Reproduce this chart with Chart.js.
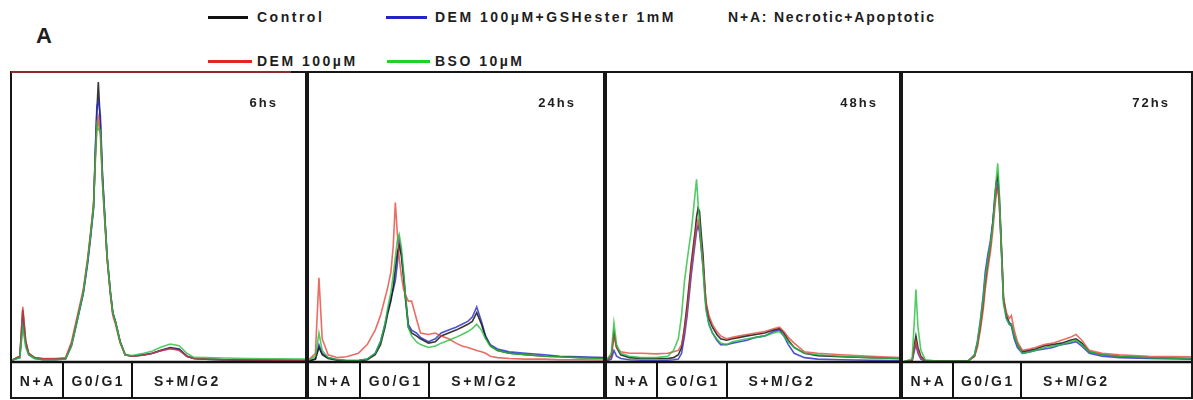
<!DOCTYPE html>
<html>
<head>
<meta charset="utf-8">
<script src="https://cdn.jsdelivr.net/npm/chart.js@4.4.1/dist/chart.umd.min.js"></script>
<style>
  body { margin: 0; width: 1193px; height: 400px; background: #fff; position: relative; overflow: hidden; font-family: 'Liberation Sans', Arial, sans-serif; }
  .txt { position: absolute; font-weight: bold; font-size: 14px; letter-spacing: 2.5px; color: #1e1e1e; white-space: nowrap; line-height: 16px; }
  .key { position: absolute; height: 3px; }
  canvas { position: absolute; top: 71px; }
</style>
</head>
<body>
<div class="txt" style="left:36px;top:24px;font-size:22px;letter-spacing:0;line-height:24px;">A</div>

<div class="key" style="left:208px;top:16px;width:40px;background:#111;"></div>
<div class="txt" style="left:257px;top:9px;">Control</div>
<div class="key" style="left:386px;top:16px;width:41px;background:#2323c8;"></div>
<div class="txt" style="left:435px;top:9px;">DEM 100µM+GSHester 1mM</div>
<div class="txt" style="left:728px;top:9px;letter-spacing:1.8px;">N+A: Necrotic+Apoptotic</div>

<div class="key" style="left:208px;top:60px;width:44px;background:#e32424;"></div>
<div class="txt" style="left:257px;top:53px;">DEM 100µM</div>
<div class="key" style="left:387px;top:60px;width:43px;background:#22d02a;"></div>
<div class="txt" style="left:435px;top:53px;">BSO 10µM</div>

<canvas id="p0" width="297" height="329" style="left:10px"></canvas>
<canvas id="p1" width="298" height="329" style="left:307px"></canvas>
<canvas id="p2" width="296" height="329" style="left:605px"></canvas>
<canvas id="p3" width="292" height="329" style="left:901px"></canvas>

<script>
// ---- data (x = channel, % of plot width; y = counts, % of plot height) ----
var timeLabels = ['6hs', '24hs', '48hs', '72hs'];
var regionEdges = [0, 17.5, 41, 100];
var regionLabels = ['N+A', 'G0/G1', 'S+M/G2'];

// 6hs
var chan6 = [0, 3, 4, 5, 6, 8, 11, 15, 18.5, 20.5, 22.5, 24.5, 26, 27, 28, 28.6, 29.1, 29.6, 30.3, 31, 31.8, 32.6, 33.7, 34.5, 35.4, 37, 38.7, 41, 45, 48, 50.5, 54, 57, 59.6, 62, 66, 72, 80, 90, 100];
var ctrl6 = [0.5, 2, 18, 7, 3, 1.5, 1, 1, 1.2, 6, 15, 24, 35, 44, 54, 72, 86, 96.5, 82, 64, 50, 36, 24, 17, 14, 7, 2.5, 2, 2.5, 3, 4, 5, 4.5, 2, 1.2, 1, 0.8, 0.7, 0.6, 0.5];
var dem6 = [0.5, 2, 19, 7, 3, 1.5, 1.2, 1.2, 1.5, 7, 16, 25, 36, 45, 55, 70, 80, 84, 78, 62, 48, 35, 23, 16, 13, 6.5, 2.5, 2, 2.3, 3, 3.8, 4.6, 4, 2, 1.2, 1, 0.8, 0.7, 0.6, 0.5];
var gsh6 = [0.5, 1.5, 14, 6, 2.5, 1.2, 0.8, 0.8, 1, 5.5, 14.5, 23.5, 34, 43, 53, 74, 88, 90, 85, 65, 50, 36, 24, 17, 14, 7, 2.5, 2, 2.4, 3, 3.8, 4.7, 4.2, 2, 1.2, 1, 0.8, 0.7, 0.6, 0.5];
var bso6 = [0.5, 1.5, 12, 5, 2.5, 1.2, 0.8, 0.8, 1, 5.5, 14.5, 24, 35, 44, 54, 70, 82, 80, 80, 62, 49, 36, 24, 17, 14, 7, 2.5, 2.2, 3, 3.8, 5, 6.2, 5.6, 3, 1.6, 1.5, 1.4, 1.2, 1.1, 1];

// 24hs
var chan24 = [0, 2.5, 3.7, 4.8, 6.8, 10, 13, 17, 20, 22.7, 24.5, 26, 27, 28, 28.8, 29.5, 30.2, 30.8, 31.5, 32.3, 33, 33.9, 35, 36.6, 38, 40.7, 43, 45, 47.5, 50, 52, 54, 55.5, 57, 58.6, 60, 61.6, 64, 68, 73.5, 80, 85, 92, 100];
var ctrl24 = [0.3, 1, 5, 2.5, 1.2, 0.6, 0.4, 0.4, 0.8, 2.5, 6, 12, 17, 21, 26, 32, 38, 40, 37, 29, 21, 12, 10, 9, 8, 6.5, 7, 9, 10, 11, 12, 13, 14, 17, 13, 8.5, 5.5, 4, 3, 2.5, 2, 1.8, 1.5, 1.3];
var dem24 = [0.5, 3, 29, 8, 2.5, 1.5, 1.8, 3, 6, 11, 16, 22, 26, 31, 40, 55, 44, 36, 30, 25, 23, 21, 21, 15, 10, 9.5, 10, 9, 8, 6.5, 5.5, 5, 4.5, 4, 3.5, 3, 2, 1.5, 1.2, 1, 1, 0.8, 0.8, 0.7];
var gsh24 = [0.3, 1, 6, 3, 1.5, 0.8, 0.5, 0.5, 1, 3, 7, 13, 18, 22, 25, 28, 34, 42, 38, 30, 22, 13, 11, 10, 8.5, 7, 8, 10, 11, 12, 13, 14, 15.5, 19, 14, 9, 6, 4.5, 3.5, 3, 2.5, 2, 1.8, 1.5];
var bso24 = [0.5, 2, 10, 4, 1.5, 0.8, 0.5, 0.5, 1, 3, 7, 13, 19, 24, 30, 36, 42, 44, 40, 31, 22, 12, 9, 7, 6, 5, 5.5, 6.5, 7.5, 8.5, 9.5, 10.5, 11.5, 13, 11, 8, 5.5, 4, 3, 2.5, 2, 1.8, 1.5, 1.2];

// 48hs
var chan48 = [0, 1.8, 2.7, 3.6, 5, 8, 12, 17, 21, 23, 24.6, 25.7, 26.7, 27.6, 28.4, 29, 29.7, 30.3, 30.8, 31.3, 31.8, 32.4, 33, 33.5, 34, 35, 36.2, 37.7, 39, 41, 43, 45.5, 48, 51, 54, 57, 59, 60.5, 62, 64, 67.5, 72, 80, 90, 100];
var ctrl48 = [0.5, 2, 10, 5, 2.5, 1.5, 1.2, 1.2, 1.2, 1.5, 2.5, 5, 12, 20, 28, 34, 40, 45, 50, 53, 52, 44, 37, 28, 20, 15, 12, 9.5, 8, 7.5, 8, 8.5, 9, 9.5, 10, 11, 11.5, 10, 7.5, 5, 3, 2.2, 1.8, 1.5, 1.2];
var dem48 = [0.5, 2, 9, 5, 3.5, 3, 3, 2.8, 3, 3.5, 4, 6, 11, 18, 26, 32, 38, 43, 47, 49, 46, 40, 34, 27, 21, 16, 13, 10.5, 9, 8, 8.5, 9, 9.5, 10, 10.5, 11.5, 12, 10.5, 8.5, 6.5, 3.5, 3, 2.5, 2, 1.5];
var gsh48 = [0.3, 1, 4, 2, 1.2, 0.8, 0.6, 0.6, 0.6, 0.8, 1, 3, 9, 16, 24, 30, 36, 41, 45, 47, 45, 39, 33, 26, 19, 13, 10, 7.5, 6, 6, 6.5, 7, 7.5, 8.5, 9, 10.5, 11, 9, 6, 3, 1.5, 1, 0.8, 0.6, 0.5];
var bso48 = [0.5, 3, 13.5, 6, 3, 2, 1.5, 1.5, 2, 4, 8, 16, 28, 35, 41, 45, 52, 58, 63, 55, 48, 40, 32, 24, 18, 13, 10, 8, 6.5, 6, 7, 7.5, 8, 8.5, 9, 10, 10.5, 9, 7, 5, 3, 2.5, 2, 1.5, 1.2];

// 72hs
var chan72 = [0, 3.5, 4.3, 4.8, 5.5, 6.5, 8, 12, 17, 21, 23, 25, 26, 27, 28, 28.7, 29.6, 30.5, 31.3, 32, 32.5, 33, 33.5, 34, 34.5, 35, 36, 37, 37.7, 38.7, 39.8, 41.5, 44, 46, 49, 52, 55, 58, 60, 62, 64.6, 69, 75, 85, 100];
var ctrl72 = [0, 0.5, 6, 9, 5, 2, 0.5, 0.3, 0.3, 0.3, 0.5, 2, 6, 12, 20, 27, 34, 40, 48, 57, 62, 64, 58, 47, 35, 22, 16, 13.5, 13, 9, 6, 3.5, 4, 4.5, 5.5, 6, 6.5, 7.5, 8, 6.5, 3.5, 2.5, 2, 1.5, 1.2];
var dem72 = [0, 0.5, 5, 7, 4, 1.5, 0.5, 0.3, 0.3, 0.3, 0.5, 2, 5, 11, 18, 25, 32, 38, 45, 53, 58, 60, 55, 45, 34, 22, 17, 15, 16, 11, 7, 4, 4.5, 5, 6, 6.5, 7.5, 8.5, 9.5, 7.5, 4, 3, 2.5, 2, 1.8];
var gsh72 = [0, 0.5, 4, 6, 3, 1, 0.3, 0.2, 0.2, 0.2, 0.5, 2.5, 7, 14, 23, 31, 37, 42, 48, 55, 59, 61, 56, 45, 33, 21, 15, 13, 12.5, 8, 5, 3, 3.5, 4, 4.5, 5, 6, 6.5, 7, 5.5, 3, 2, 1.5, 1.2, 1];
var bso72 = [0, 1, 15, 25, 12, 4, 0.8, 0.3, 0.3, 0.3, 0.5, 2.5, 7, 14, 22, 29, 35, 41, 47, 56, 63, 68.5, 60, 46, 33, 20, 15, 13, 13, 9, 6, 3, 3.5, 4, 5, 5.5, 6, 7, 7.5, 6, 3.5, 2.5, 2, 1.5, 1.2];

var COLORS = { ctrl: 'rgba(20,20,20,0.85)', dem: 'rgba(226,60,50,0.75)', gsh: 'rgba(35,40,200,0.8)', bso: 'rgba(40,190,60,0.8)' };

// draw order per panel (last = on top)
var panels = [
  { chan: chan6,  series: [['bso', bso6],  ['dem', dem6],  ['gsh', gsh6],  ['ctrl', ctrl6]] },
  { chan: chan24, series: [['bso', bso24], ['dem', dem24], ['ctrl', ctrl24], ['gsh', gsh24]] },
  { chan: chan48, series: [['bso', bso48], ['dem', dem48], ['gsh', gsh48], ['ctrl', ctrl48]] },
  { chan: chan72, series: [['bso', bso72], ['dem', dem72], ['gsh', gsh72], ['ctrl', ctrl72]] }
];

// frame, phase boxes and time label
function framePlugin(p) {
  return {
    id: 'frame' + p,
    afterDatasetsDraw: function(chart) {
      var ctx = chart.ctx, a = chart.chartArea, xs = chart.scales.x;
      var bottom = chart.height - 2;
      ctx.save();
      ctx.strokeStyle = '#161616';
      ctx.lineWidth = 2;
      ctx.strokeRect(a.left, a.top, a.right - a.left, bottom - a.top);
      if (p === 0) {
        ctx.strokeStyle = 'rgba(220,60,60,0.8)'; ctx.lineWidth = 1.5;
        ctx.beginPath(); ctx.moveTo(a.left, a.top); ctx.lineTo(a.right - 15, a.top); ctx.stroke();
      }
      ctx.strokeStyle = '#111';
      ctx.lineWidth = 2.5;
      ctx.beginPath(); ctx.moveTo(a.left, a.bottom); ctx.lineTo(a.right, a.bottom); ctx.stroke();
      ctx.lineWidth = 2;
      regionEdges.slice(1, -1).forEach(function(e) {
        var x = Math.round(xs.getPixelForValue(e));
        ctx.beginPath(); ctx.moveTo(x, a.bottom); ctx.lineTo(x, bottom); ctx.stroke();
      });
      ctx.fillStyle = '#1e1e1e';
      ctx.font = "bold 14px 'Liberation Sans', Arial, sans-serif";
      ctx.letterSpacing = '2.5px';
      ctx.textBaseline = 'middle';
      var ly = (a.bottom + bottom) / 2 + 2;
      regionLabels.forEach(function(lbl, i) {
        var x0 = xs.getPixelForValue(regionEdges[i]), x1 = xs.getPixelForValue(regionEdges[i + 1]);
        if (i < 2) { ctx.textAlign = 'center'; ctx.fillText(lbl, (x0 + x1) / 2 + 1, ly); }
        else { ctx.textAlign = 'left'; ctx.fillText(lbl, x0 + 22, ly); }
      });
      ctx.font = "bold 13px 'Liberation Sans', Arial, sans-serif";
      ctx.letterSpacing = '2px';
      ctx.textAlign = 'right';
      ctx.fillText(timeLabels[p], a.right - (p < 2 ? 28 : 22), a.top + 31);
      ctx.restore();
    }
  };
}

panels.forEach(function(pn, p) {
  var datasets = pn.series.map(function(s) {
    return {
      label: s[0],
      data: pn.chan.map(function(x, i) { return { x: x, y: s[1][i] }; }),
      borderColor: COLORS[s[0]], borderWidth: 1.6, pointRadius: 0, tension: 0, fill: false
    };
  });
  new Chart(document.getElementById('p' + p).getContext('2d'), {
    type: 'line',
    data: { datasets: datasets },
    options: {
      responsive: false, animation: false, events: [],
      layout: { padding: { top: 1, left: 1, right: 1, bottom: 38 } },
      scales: {
        x: { type: 'linear', min: 0, max: 100, display: false },
        y: { min: 0, max: 100, display: false }
      },
      plugins: { legend: { display: false }, tooltip: { enabled: false } }
    },
    plugins: [framePlugin(p)]
  });
});
</script>
</body>
</html>
